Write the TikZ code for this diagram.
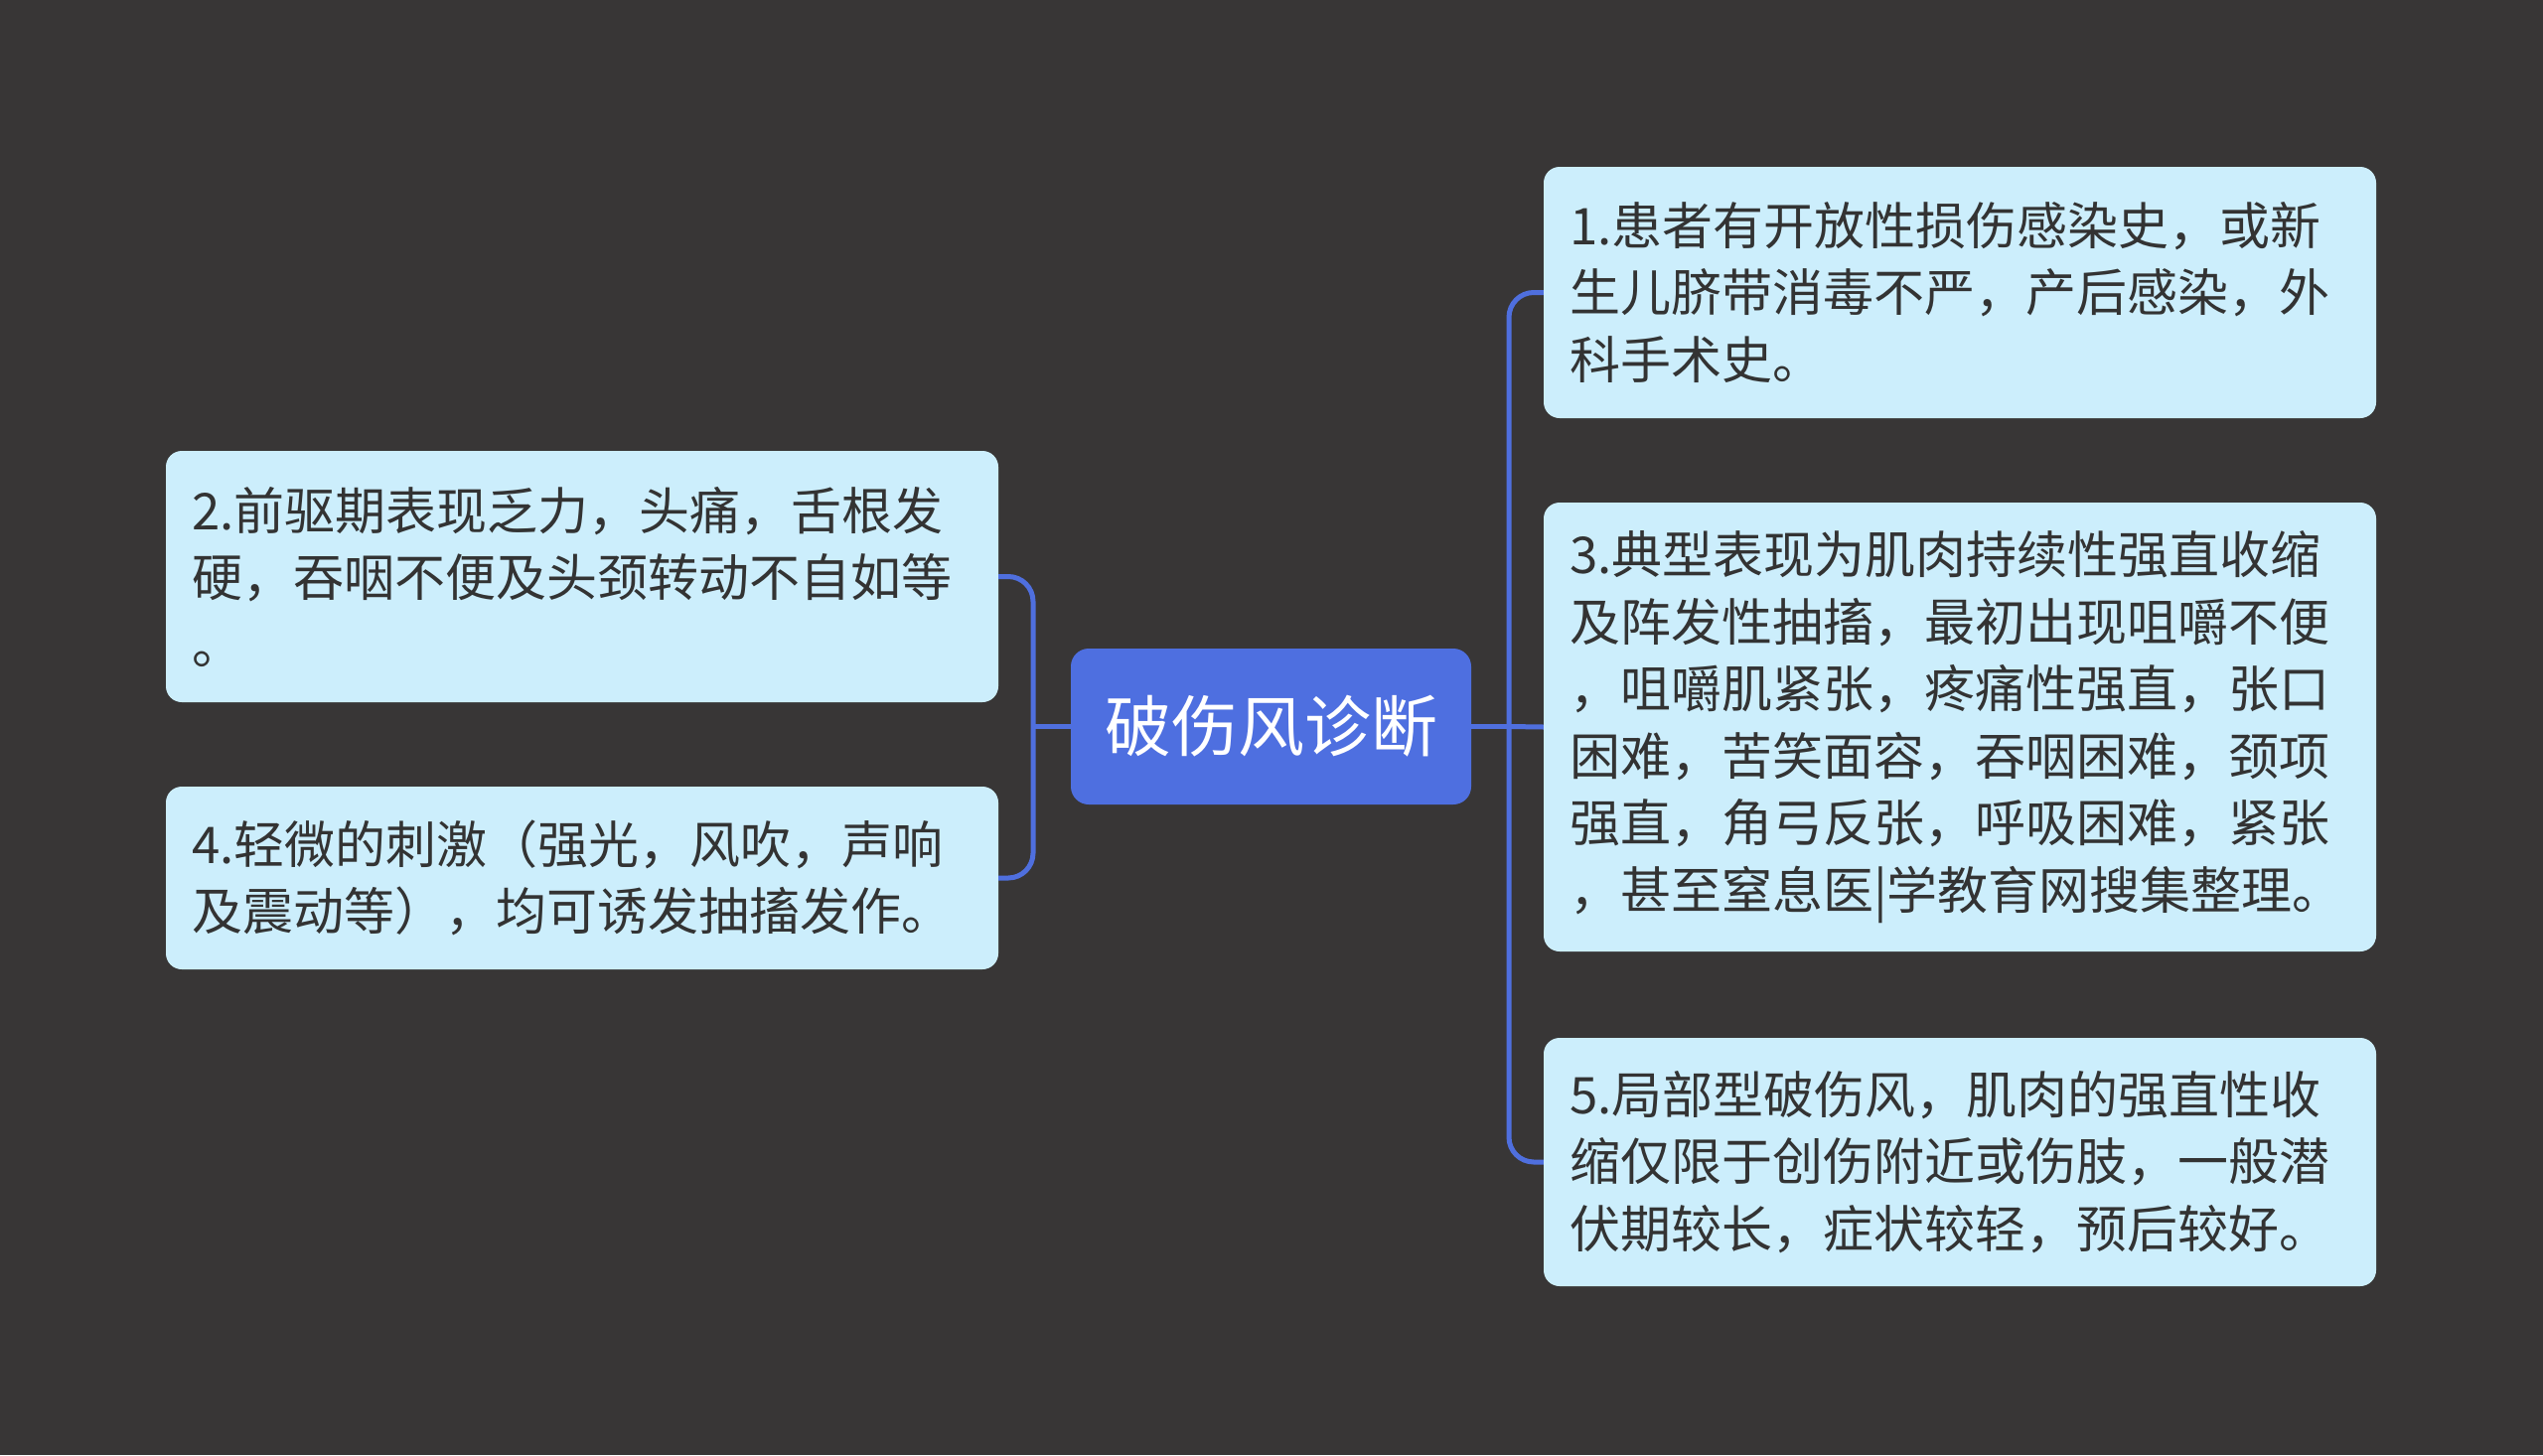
\documentclass[tikz,border=0pt]{standalone}
\usepackage{fontspec}
\newfontfamily\cjk{Noto Sans CJK SC}
\definecolor{bgc}{HTML}{383636}
\definecolor{leafc}{HTML}{CCEEFC}
\definecolor{rootc}{HTML}{4E6FE0}
\definecolor{linec}{HTML}{4F6FDE}
\definecolor{txtc}{HTML}{333333}
\begin{document}
\begin{tikzpicture}[x=1pt,y=-1pt,
  leaf/.style={fill=leafc, rounded corners=16pt, text=txtc, align=left,
    inner xsep=26pt, inner ysep=0pt, text width=786pt,
    font=\cjk\fontsize{51}{67.5}\selectfont},
  root/.style={fill=rootc, rounded corners=18pt, text=white,
    minimum width=403pt, minimum height=157pt, inner sep=0pt,
    font=\cjk\fontsize{67}{80}\selectfont},
  conn/.style={draw=linec, line width=5pt, rounded corners=25pt}]
\fill[bgc] (0,0) rectangle (2560,1465);
\useasboundingbox (0,0) rectangle (2560,1465);

\node[root] (c) at (1279.5,731.5) {破伤风诊断};

\node[leaf, minimum height=253pt] (n1) at (1973,294.5) {1.患者有开放性损伤感染史，或新\\生儿脐带消毒不严，产后感染，外\\科手术史。};
\node[leaf, minimum height=452pt] (n3) at (1973,732) {3.典型表现为肌肉持续性强直收缩\\及阵发性抽搐，最初出现咀嚼不便\\，咀嚼肌紧张，疼痛性强直，张口\\困难，苦笑面容，吞咽困难，颈项\\强直，角弓反张，呼吸困难，紧张\\，甚至窒息医|学教育网搜集整理。};
\node[leaf, minimum height=250pt] (n5) at (1973,1170) {5.局部型破伤风，肌肉的强直性收\\缩仅限于创伤附近或伤肢，一般潜\\伏期较长，症状较轻，预后较好。};
\node[leaf, minimum height=253pt] (n2) at (586,580.5) {2.前驱期表现乏力，头痛，舌根发\\硬，吞咽不便及头颈转动不自如等\\。};
\node[leaf, minimum height=184pt] (n4) at (586,884) {4.轻微的刺激（强光，风吹，声响\\及震动等），均可诱发抽搐发作。};

\coordinate (jr) at (1519,731.5);
\coordinate (jl) at (1040,731.5);

\draw[conn] (c.east) -- (jr);
\draw[conn] (n1.west) -| (jr) |- (n5.west);
\draw[conn] (jr) -- (n3.west);
\draw[conn] (c.west) -- (jl);
\draw[conn] (n2.east) -| (jl) |- (n4.east);
\end{tikzpicture}
\end{document}
